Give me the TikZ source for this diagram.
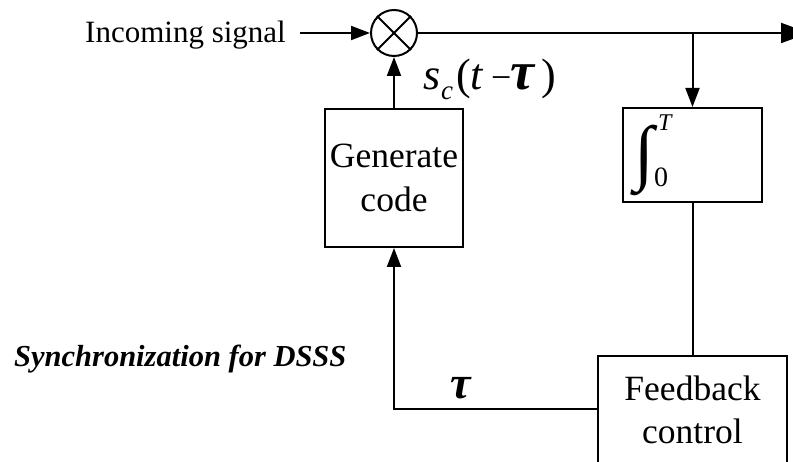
\documentclass[tikz,border=0pt]{standalone}
\usepackage{fontspec}
\setmainfont{Liberation Serif}
\usetikzlibrary{arrows.meta}
\tikzset{
  x=1pt,y=-1pt,
  wire/.style={line width=2pt,draw=black},
  flow/.style={wire,-{Triangle[length=19pt,width=14pt]}},
  bigflow/.style={wire,-{Triangle[length=28pt,width=20pt]}},
  blockbox/.style={draw=black,line width=2pt,rectangle,inner sep=0pt,align=center,font=\fontsize{35.5}{43.5}\selectfont},
  label/.style={inner sep=0pt,font=\fontsize{31}{38}\selectfont},
}
\begin{document}
\begin{tikzpicture}
\useasboundingbox (0,0) rectangle (793,462);
\clip (0,0) rectangle (793,462);
\node[label,anchor=base west] (inc) at (85,43) {Incoming signal};
\coordinate (incend) at (300,33);
\node[draw=black,line width=2pt,circle,minimum size=46pt,inner sep=0pt] (mix) at (394,33) {};
\draw[wire] (mix.45) -- (mix.225);
\draw[wire] (mix.135) -- (mix.315);
\node[blockbox,minimum width=138pt,minimum height=138pt] (gen) at (394,178) {Generate\\code};
\node[blockbox,minimum width=139pt,minimum height=94pt] (int) at (692.5,155) {};
\node[blockbox,minimum width=189pt,minimum height=108pt] (fb) at (692.5,410) {Feedback\\control};
\node[label,anchor=center,font=\fontsize{72}{72}\selectfont\bfseries] (intg) at (644,160) {∫};
\node[label,anchor=base west,font=\fontsize{24}{24}\selectfont\itshape] (tt) at (658,131) {T};
\node[label,anchor=base west,font=\fontsize{28}{28}\selectfont] (zero) at (654,187) {0};
\node[label,anchor=base west] (s) at (423,90) {\fontsize{44}{44}\selectfont\textit{s}};
\node[label,anchor=base west] (c) at (441,100) {\fontsize{27}{27}\selectfont\textit{c}};
\node[label,anchor=base west] (lp) at (456,90) {\fontsize{44}{44}\selectfont (\textit{t}};
\node[label,anchor=base west] (m) at (491,90) {\fontsize{36}{36}\selectfont −};
\node[label,anchor=base west] (tv) at (510,90) {\fontsize{54}{54}\selectfont\bfseries\itshape τ};
\node[label,anchor=base west] (rp) at (541,90) {\fontsize{44}{44}\selectfont )};
\node[label,anchor=base,font=\fontsize{46}{46}\selectfont\bfseries\itshape] (tau) at (461,399) {τ};
\node[label,anchor=base west,font=\fontsize{30.5}{36}\selectfont\bfseries\itshape] (cap) at (14,367) {Synchronization for DSSS};
\coordinate (tap) at (692.5,33);
\coordinate (out) at (809,33);
\coordinate (bend) at (394,409);
\draw[flow] (incend) -- (mix.west);
\draw[bigflow] (mix.east) -- (out);
\draw[flow] (tap) -- (int.north);
\draw[flow] (gen.north) -- (mix.south);
\draw[wire] (int.south) -- (fb.north);
\draw[flow] (fb.west |- bend) -- (bend) -- (gen.south);
\end{tikzpicture}
\end{document}
